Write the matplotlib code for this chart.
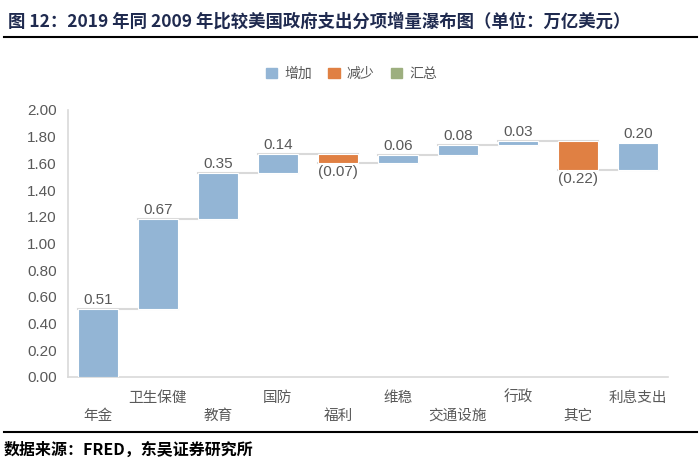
import numpy as np
import matplotlib
matplotlib.use("Agg")
import matplotlib.pyplot as plt
from matplotlib.patches import Patch

plt.rcParams['font.family'] = ['Liberation Sans', 'Noto Sans CJK SC', 'DejaVu Sans']

#=================
#data
#=================
categories = ["年金", "卫生保健", "教育", "国防", "福利", "维稳", "交通设施", "行政", "其它", "利息支出"]
changes = [0.51, 0.67, 0.35, 0.14, -0.07, 0.06, 0.08, 0.03, -0.22, 0.20]
y_ticks = [0.0, 0.2, 0.4, 0.6, 0.8, 1.0, 1.2, 1.4, 1.6, 1.8, 2.0]

title_text = "图 12：2019 年同 2009 年比较美国政府支出分项增量瀑布图（单位：万亿美元）"
source_text = "数据来源：FRED，东吴证券研究所"

blue = "#93B5D5"
orange = "#E08043"
green = "#9DAF7F"
grey_text = "#595959"
line_grey = "#D9D9D9"

#=================
#waterfall positions
#=================
changes = np.array(changes)
ends = np.cumsum(changes)
starts = ends - changes
x = np.arange(len(categories))

fig = plt.figure(figsize=(7, 4.7), dpi=100)
ax = fig.add_axes([0.097, 0.198, 0.857, 0.568])

bottoms = np.minimum(starts, ends)
heights = np.abs(changes)
colors = [blue if c >= 0 else orange for c in changes]
ax.bar(x, heights, bottom=bottoms, width=0.67, color=colors,
       edgecolor="white", linewidth=0.8, zorder=3)

# connector lines
for i in range(len(x) - 1):
    ax.plot([x[i] - 0.335, x[i + 1] + 0.335], [ends[i], ends[i]],
            color=line_grey, linewidth=1.5, zorder=2)

# value labels
for i, c in enumerate(changes):
    if c >= 0:
        ax.text(x[i], ends[i] + 0.015, f"{c:.2f}", ha="center", va="bottom",
                fontsize=11, color=grey_text)
    else:
        ax.text(x[i], ends[i] - 0.015, f"({abs(c):.2f})", ha="center", va="top",
                fontsize=11, color=grey_text)

ax.set_xlim(-0.5, len(x) - 0.5)
ax.set_ylim(0, 2.0)
ax.set_yticks(y_ticks)
ax.set_yticklabels([f"{t:.2f}" for t in y_ticks], fontsize=11, color=grey_text)
ax.tick_params(axis="y", length=0, pad=8)

ax.set_xticks(x)
ax.set_xticklabels([""] * len(x))
ax.tick_params(axis="x", length=0)
# staggered category labels
for i, name in enumerate(categories):
    y_off = -0.292 if i % 2 == 0 else -0.157
    ax.text(x[i], y_off, name, ha="center", va="center", fontsize=10.5,
            color=grey_text, family=["Noto Sans CJK SC", "DejaVu Sans"])

for side in ["top", "right"]:
    ax.spines[side].set_visible(False)
ax.spines["left"].set_color(line_grey)
ax.spines["bottom"].set_color(line_grey)
ax.spines["left"].set_linewidth(1.2)
ax.spines["bottom"].set_linewidth(1.2)

handles = [Patch(color=blue, label="增加"), Patch(color=orange, label="减少"),
           Patch(color=green, label="汇总")]
leg = fig.legend(handles=handles, loc="center", bbox_to_anchor=(0.502, 0.843), ncol=3,
                 frameon=False, handlelength=0.8, handleheight=0.8, handletextpad=0.5,
                 columnspacing=1.2, prop={"family": ["Noto Sans CJK SC"], "size": 10})
for t in leg.get_texts():
    t.set_color(grey_text)

#=================
#title and source
#=================
fig.text(0.012, 0.955, title_text, ha="left", va="center", fontsize=12.5,
         fontweight="bold", color="#1F2A4F", family=["Noto Sans CJK SC", "DejaVu Sans"])
fig.add_artist(plt.Line2D([0.005, 0.995], [0.921, 0.921], color="black", linewidth=1.5))
fig.add_artist(plt.Line2D([0.005, 0.995], [0.081, 0.081], color="black", linewidth=1.5))
fig.text(0.005, 0.043, source_text, ha="left", va="center", fontsize=11.5,
         fontweight="bold", color="black", family=["Noto Sans CJK SC", "DejaVu Sans"])

fig.savefig("out.png", dpi=100)
